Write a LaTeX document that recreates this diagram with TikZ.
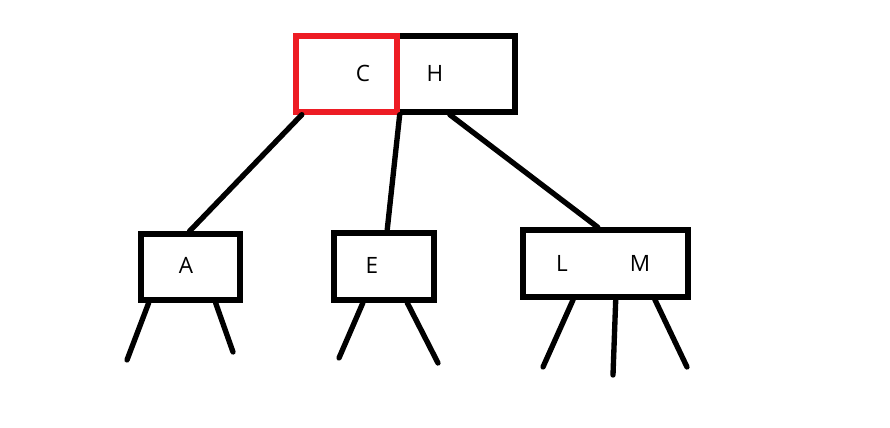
\documentclass[tikz,border=0pt]{standalone}
\usepackage{fontspec}
\setmainfont{Open Sans}
\usepackage{xcolor}
\usetikzlibrary{positioning,calc}
\definecolor{keyred}{RGB}{237,28,36}

\begin{document}
\begin{tikzpicture}[
    x=0.025cm, y=-0.025cm,
    keybox/.style={draw, line width=3.8pt, rectangle, inner sep=0pt},
    letter/.style={font=\fontsize{16}{18}\selectfont, inner sep=0pt},
    edge/.style={line width=3.8pt, line cap=round}
]
    \useasboundingbox (0,0) rectangle (890,428);

    % the root with its two keys
    \node [keybox, minimum width=2.95cm, minimum height=1.9cm] (hbox) at (456,74) {};
    \node [keybox, draw=keyred, minimum width=2.525cm, minimum height=1.9cm] (cbox) at (346.5,74) {};
    \node [letter] (c) at (363,73) {C};
    \node [letter] (h) at (435,73) {H};

    % children
    \node [keybox, minimum width=2.475cm, minimum height=1.65cm] (abox) at (190.5,267) {};
    \node [keybox, minimum width=2.5cm, minimum height=1.675cm] (ebox) at (384,266.5) {};
    \node [keybox, minimum width=4.125cm, minimum height=1.675cm] (lmbox) at (605.5,263.5) {};
    \node [letter] (a) at (186,265) {A};
    \node [letter] (e) at (372,265) {E};
    \node [letter] (l) at (562,263) {L};
    \node [letter] (m) at (640,263) {M};

    \draw [edge] ($(cbox.south west)!.08!(cbox.south east)$) -- ($(abox.north west)!.49!(abox.north east)$);
    \draw [edge] (cbox.south east) -- ($(ebox.north west)!.53!(ebox.north east)$);
    \draw [edge] ($(hbox.south west)!.45!(hbox.south east)$) -- ($(lmbox.north west)!.455!(lmbox.north east)$);

    % empty subtrees
    \coordinate (a1) at (127,360);
    \coordinate (a2) at (233,352);
    \coordinate (e1) at (339,358);
    \coordinate (e2) at (438,363);
    \coordinate (m1) at (543,367);
    \coordinate (m2) at (613,375);
    \coordinate (m3) at (687,367);

    \draw [edge] ($(abox.south west)!.1!(abox.south east)$) -- (a1);
    \draw [edge] ($(abox.south west)!.74!(abox.south east)$) -- (a2);
    \draw [edge] ($(ebox.south west)!.3!(ebox.south east)$) -- (e1);
    \draw [edge] ($(ebox.south west)!.72!(ebox.south east)$) -- (e2);
    \draw [edge] ($(lmbox.south west)!.31!(lmbox.south east)$) -- (m1);
    \draw [edge] ($(lmbox.south west)!.56!(lmbox.south east)$) -- (m2);
    \draw [edge] ($(lmbox.south west)!.79!(lmbox.south east)$) -- (m3);
\end{tikzpicture}
\end{document}
